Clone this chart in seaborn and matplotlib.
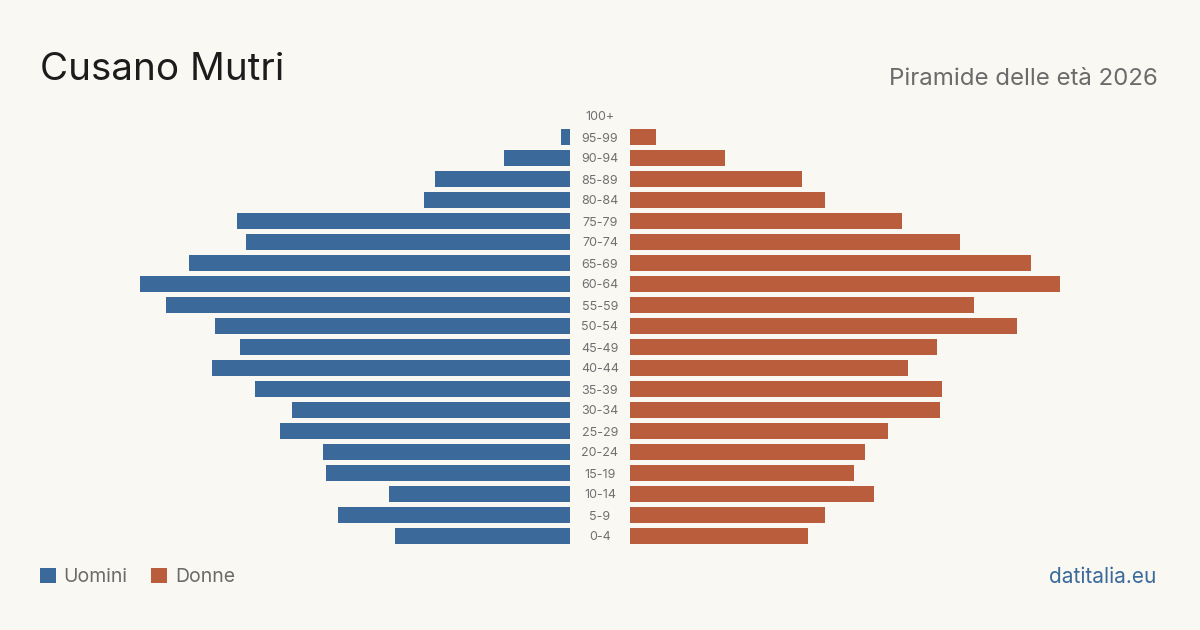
import matplotlib
matplotlib.use("Agg")
import matplotlib.pyplot as plt
import seaborn as sns
from matplotlib.patches import Patch

# fasce d'età, dall'alto verso il basso
eta = ["100+", "95-99", "90-94", "85-89", "80-84", "75-79", "70-74", "65-69",
       "60-64", "55-59", "50-54", "45-49", "40-44", "35-39", "30-34", "25-29",
       "20-24", "15-19", "10-14", "5-9", "0-4"]
uomini = [0, 3, 23, 47, 51, 116, 113, 133, 150, 141, 124, 115, 125, 110, 97,
          101, 86, 85, 63, 81, 61]
donne = [0, 9, 33, 60, 68, 95, 115, 140, 150, 120, 135, 107, 97, 109, 108,
         90, 82, 78, 85, 68, 62]

BG = "#f9f8f3"
BLU = "#3b6a9a"
ARANCIO = "#b95d3c"

sns.set_theme(style="white")
plt.rcParams["font.family"] = ["Inter", "DejaVu Sans"]

fig = plt.figure(figsize=(12, 6.3), dpi=100, facecolor=BG)
W, H = 1200, 630
xmax = max(max(uomini), max(donne))

# assi: sinistra uomini, destra donne, etichette al centro
bottom = 1 - 546.5 / H
height = 441 / H
ax_l = fig.add_axes([140 / W, bottom, 430 / W, height])
ax_r = fig.add_axes([630 / W, bottom, 430 / W, height])

sns.barplot(x=uomini, y=eta, orient="h", color=BLU, width=0.8,
            saturation=1, linewidth=0, ax=ax_l)
sns.barplot(x=donne, y=eta, orient="h", color=ARANCIO, width=0.8,
            saturation=1, linewidth=0, ax=ax_r)

ax_l.set_xlim(xmax, 0)
ax_r.set_xlim(0, xmax)
for ax in (ax_l, ax_r):
    ax.set_facecolor(BG)
    ax.set_ylim(len(eta) - 0.5, -0.5)
    ax.set_xlabel("")
    ax.set_ylabel("")
    ax.set_xticks([])
    sns.despine(ax=ax, left=True, bottom=True)

ax_l.set_yticks([])
ax_r.tick_params(axis="y", length=0, pad=21.6, labelsize=9, labelcolor="#707070")
for lab in ax_r.get_yticklabels():
    lab.set_horizontalalignment("center")

# testi
fig.text(40 / W, 1 - 80 / H, "Cusano Mutri", fontsize=27.8, color="#1c1c1c",
         va="baseline", ha="left")
fig.text(1158 / W, 1 - 85 / H, "Piramide delle età 2026", fontsize=17.3,
         color="#6b6b6b", va="baseline", ha="right")
fig.text(1156 / W, 1 - 583 / H, "datitalia.eu", fontsize=15, color=BLU,
         va="baseline", ha="right")

handles = [Patch(facecolor=BLU, edgecolor="none"),
           Patch(facecolor=ARANCIO, edgecolor="none")]
fig.legend(handles, ["Uomini", "Donne"], loc="center left",
           bbox_to_anchor=(40 / W, 1 - 577 / H), ncol=2, frameon=False,
           fontsize=14, labelcolor="#6b6b6b", handlelength=0.82,
           handleheight=0.82, handletextpad=0.4, columnspacing=1.2,
           borderpad=0, borderaxespad=0)

fig.savefig("out.png", dpi=100, facecolor=BG)
